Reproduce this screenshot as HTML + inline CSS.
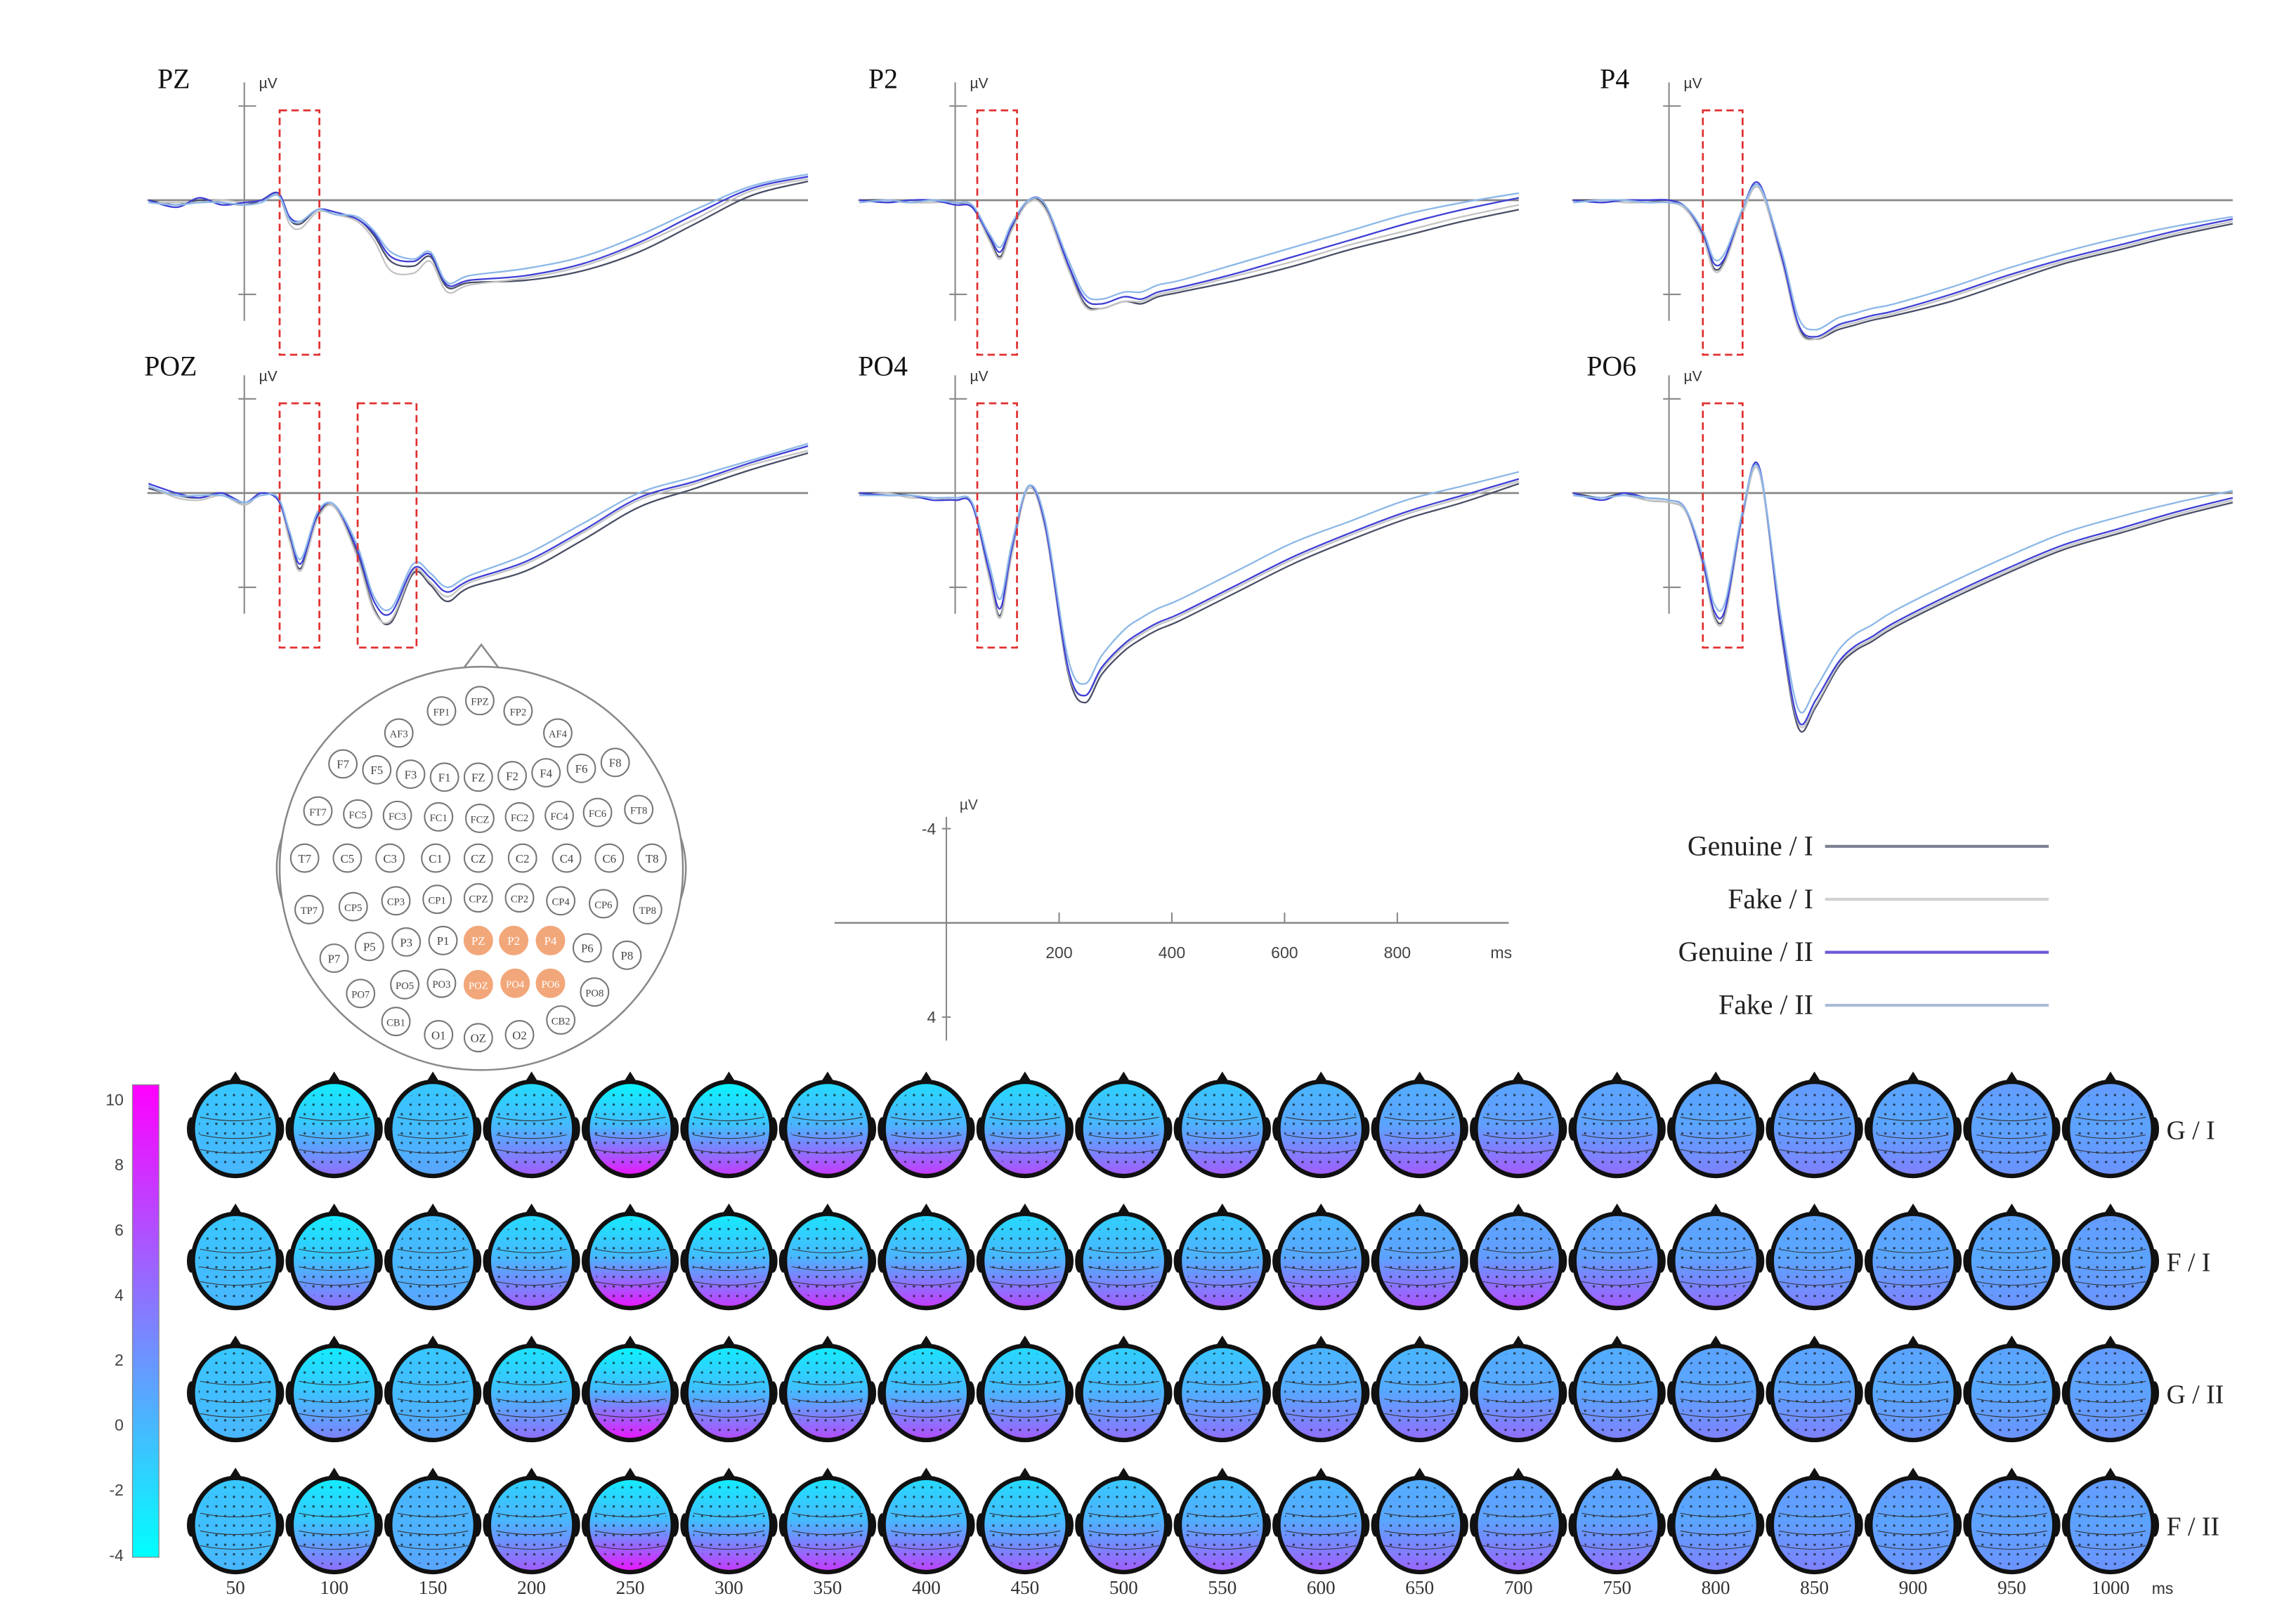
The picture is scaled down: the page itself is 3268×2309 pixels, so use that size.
<!DOCTYPE html>
<html><head><meta charset="utf-8"><style>
html,body{margin:0;padding:0;background:#fff;}
svg{display:block;font-family:"Liberation Serif",serif;}
</style></head><body>
<svg id="fig" width="3268" height="2309" viewBox="0 0 1560 1102" preserveAspectRatio="none" xmlns="http://www.w3.org/2000/svg">
<g id="waves"></g>
<g id="head"></g>
<g id="scalebar"></g>
<g id="legend"></g>
<g id="topos"></g>
</svg>
<script>
const times=[-170,-120,-80,-40,0,30,60,80,100,130,160,200,230,260,300,330,360,400,500,600,700,800,900,1000];
const condNames=["Genuine / I","Fake / I","Genuine / II","Fake / II"];
const condColors=["#4a4f66","#c4c4c4","#3f3fd6","#8cb8e8"];
const PZ_G1=[0,0.2,0,0.1,0.2,0,-0.3,0.8,1.0,0.4,0.6,0.8,1.5,2.6,2.8,2.4,3.7,3.5,3.4,3.0,2.2,1.0,-0.2,-0.8];
const PZ_F1=[0.1,0.1,0.1,0,0.1,0,-0.2,1.0,1.2,0.5,0.6,0.9,1.7,3.0,3.1,2.6,3.9,3.6,3.3,2.8,1.9,0.8,-0.4,-0.9];
const PZ_G2=[0,0.3,-0.1,0.2,0.1,0,-0.3,0.7,0.9,0.4,0.5,0.8,1.4,2.4,2.6,2.3,3.6,3.4,3.2,2.7,1.8,0.6,-0.5,-1.0];
const PZ_F2=[0.1,0.2,0.1,0.1,0.2,0.1,-0.2,0.8,0.9,0.4,0.6,0.7,1.3,2.2,2.5,2.2,3.5,3.2,2.9,2.4,1.5,0.4,-0.6,-1.1];
const P2_G1=[0,0,0.1,0,0.1,0.3,1.6,2.4,1.2,0,0.3,2.8,4.4,4.6,4.3,4.4,4.1,3.9,3.4,2.8,2.1,1.5,0.9,0.4];
const P2_F1=[0.1,0,0.1,0.1,0.1,0.3,1.7,2.5,1.3,0.1,0.4,2.9,4.5,4.6,4.3,4.3,4.0,3.8,3.2,2.6,1.9,1.3,0.7,0.2];
const P2_G2=[0,0.1,0,0,0.2,0.3,1.5,2.2,1.1,0,0.2,2.7,4.2,4.4,4.1,4.2,3.9,3.7,3.1,2.4,1.7,1.0,0.4,-0.1];
const P2_F2=[0.1,0,0.1,0,0.1,0.2,1.4,2.0,1.0,0,0.2,2.5,4.0,4.2,3.9,3.9,3.6,3.4,2.7,2.0,1.3,0.6,0.1,-0.3];
const P4_G1=[0,0,0,0.1,0,0.4,1.5,2.9,2.5,0.5,-0.6,2.5,5.4,5.9,5.5,5.3,5.1,4.9,4.3,3.5,2.7,2.1,1.5,1.0];
const P4_F1=[0.1,0,0.1,0.1,0.1,0.4,1.6,3.0,2.6,0.6,-0.5,2.6,5.5,5.9,5.4,5.2,5.0,4.8,4.1,3.3,2.6,2.0,1.4,0.9];
const P4_G2=[0,0.1,0,0,0,0.3,1.4,2.7,2.4,0.4,-0.7,2.4,5.3,5.8,5.3,5.1,4.9,4.7,4.0,3.2,2.5,1.9,1.3,0.8];
const P4_F2=[0.1,0,0,0.1,0.1,0.3,1.3,2.5,2.2,0.4,-0.6,2.2,5.0,5.5,5.0,4.8,4.6,4.4,3.7,2.9,2.2,1.6,1.1,0.7];
const POZ_G1=[-0.2,0.1,0.2,0,0.5,0,0.3,1.9,3.2,1.0,0.6,2.6,4.9,5.5,3.4,3.9,4.6,4.0,3.3,2.0,0.6,-0.2,-1.0,-1.7];
const POZ_F1=[-0.3,0.2,0.3,0.1,0.5,0,0.3,2.0,3.3,1.1,0.6,2.7,5.0,5.4,3.3,3.8,4.4,3.8,3.0,1.7,0.3,-0.4,-1.2,-1.8];
const POZ_G2=[-0.4,0,0.2,0,0.4,0,0.3,1.7,3.0,0.9,0.5,2.4,4.6,5.1,3.2,3.6,4.2,3.7,2.9,1.6,0.2,-0.5,-1.3,-2.0];
const POZ_F2=[-0.3,0.1,0.1,0.1,0.4,0.1,0.2,1.6,2.8,0.8,0.5,2.2,4.4,4.9,3.0,3.4,4.0,3.5,2.6,1.3,0,-0.7,-1.4,-2.1];
const PO4_G1=[0,0,0.1,0.2,0.3,0.5,3.5,5.2,2.6,-0.3,1.5,7.6,8.9,7.7,6.7,6.2,5.8,5.4,4.2,3.0,2.0,1.1,0.4,-0.4];
const PO4_F1=[0.1,0,0.2,0.2,0.3,0.5,3.6,5.3,2.7,-0.2,1.6,7.5,8.6,7.5,6.5,6.0,5.6,5.2,4.0,2.8,1.8,0.9,0.2,-0.5];
const PO4_G2=[0,0.1,0.1,0.3,0.3,0.5,3.3,4.9,2.4,-0.3,1.4,7.4,8.6,7.4,6.4,5.9,5.5,5.1,3.9,2.7,1.7,0.8,0.1,-0.6];
const PO4_F2=[0.1,0.1,0.1,0.2,0.2,0.4,3.0,4.5,2.2,-0.3,1.2,7.0,8.1,6.9,5.8,5.3,4.9,4.5,3.3,2.1,1.2,0.3,-0.3,-0.9];
const PO6_G1=[0,0.2,0,0.3,0.4,0.8,3.0,5.2,5.1,1.0,-1.0,6.1,10.0,9.1,7.4,6.7,6.3,5.7,4.5,3.4,2.4,1.7,1.0,0.4];
const PO6_F1=[0.1,0.2,0.1,0.3,0.4,0.8,3.1,5.3,5.2,1.1,-0.9,6.0,9.8,9.0,7.3,6.6,6.2,5.6,4.4,3.3,2.3,1.6,0.9,0.3];
const PO6_G2=[0,0.3,0,0.2,0.3,0.7,2.9,5.0,4.9,0.9,-1.1,5.9,9.7,8.8,7.2,6.5,6.1,5.5,4.3,3.2,2.2,1.5,0.8,0.2];
const PO6_F2=[0.1,0.2,0.1,0.2,0.3,0.7,2.7,4.7,4.6,0.8,-1.0,5.5,9.2,8.3,6.7,6.0,5.6,5.0,3.8,2.7,1.7,1.0,0.4,-0.1];
const panelNames=["PZ","P2","P4","POZ","PO4","PO6"];
const panelSeries=[[PZ_G1,PZ_F1,PZ_G2,PZ_F2],[P2_G1,P2_F1,P2_G2,P2_F2],[P4_G1,P4_F1,P4_G2,P4_F2],[POZ_G1,POZ_F1,POZ_G2,POZ_F2],[PO4_G1,PO4_F1,PO4_G2,PO4_F2],[PO6_G1,PO6_F1,PO6_G2,PO6_F2]];
const scaleTicks=[200,400,600,800];
const cbTicks=[10,8,6,4,2,0,-2,-4];
const topoTimes=[50,100,150,200,250,300,350,400,450,500,550,600,650,700,750,800,850,900,950,1000];
const rowLabels=["G / I","F / I","G / II","F / II"];
const front_GI=[-1,-3,-1,-2,-3.5,-3.5,-2,-2,-2,-1.5,-1,0,0.5,1,1,1,1.5,1,1.5,1.5];
const back_GI=[0,4,1,5,9,7,7,7,6,5,5,5,5,5,4,3,3,3,2,2];
const front_FI=[-1,-3,-0.5,-2,-3,-3,-2.5,-2,-2,-1.5,-1,0,0.5,1,1,1,1,1,1,1.5];
const back_FI=[0,4,1,5,9,7,7.5,7,6,5,5,5.5,5.5,6,5,4,3,3,2,2];
const front_GII=[-1,-3,-1,-2.5,-3.5,-3,-3,-2.5,-2,-1.5,-1,0,0,0.5,0.5,1,1,1,1,1.5];
const back_GII=[0,3,1,4,9,6,6,6,5,4,4,4,4,4,3,3,3,2,2,2];
const front_FII=[-1,-3,0,-1.5,-3,-3,-2.5,-2,-2,-1,-0.5,0,0.5,1,1,1,1.5,1.5,1.5,1.5];
const back_FII=[0,4,1,5,9,7,7,6.5,5,5,5,5,4.5,4.5,4,3,3,2,2,2];
const topoFront=[front_GI,front_FI,front_GII,front_FII];
const topoBack=[back_GI,back_FI,back_GII,back_FII];

const NS="http://www.w3.org/2000/svg";
function mk(tag,attrs,parent,text){const e=document.createElementNS(NS,tag);for(const k in attrs)e.setAttribute(k,attrs[k]);if(text!==undefined)e.textContent=text;parent.appendChild(e);return e;}
function smooth(pts){let d="M"+pts[0][0].toFixed(1)+","+pts[0][1].toFixed(1);for(let i=0;i<pts.length-1;i++){const p0=pts[Math.max(0,i-1)],p1=pts[i],p2=pts[i+1],p3=pts[Math.min(pts.length-1,i+2)];const c1=[p1[0]+(p2[0]-p0[0])/6,p1[1]+(p2[1]-p0[1])/6],c2=[p2[0]-(p3[0]-p1[0])/6,p2[1]-(p3[1]-p1[1])/6];d+="C"+c1[0].toFixed(1)+","+c1[1].toFixed(1)+" "+c2[0].toFixed(1)+","+c2[1].toFixed(1)+" "+p2[0].toFixed(1)+","+p2[1].toFixed(1);}return d;}

// panels
const panelPos=[{ax:166,zy:136,lx:107,ly:60},{ax:649,zy:136,lx:590,ly:60},{ax:1134,zy:136,lx:1087,ly:60},{ax:166,zy:335,lx:98,ly:255},{ax:649,zy:335,lx:583,ly:255},{ax:1134,zy:335,lx:1078,ly:255}];
const boxes=[[[190,217]],[[664,691]],[[1157,1184]],[[190,217],[243,283]],[[664,691]],[[1157,1184]]];
const W=document.getElementById("waves");
const PXMS=0.383,PXUV=16;
panelNames.forEach((nm,pi)=>{
  const p=panelPos[pi];
  const g=mk("g",{},W);
  
  
  const xs=t=>p.ax+t*PXMS, ys=v=>p.zy+v*PXUV;
  const lab=mk("text",{x:p.lx,y:p.ly,"font-size":19,fill:"#111"},g,nm);
  
  
  mk("line",{x1:xs(-172),x2:xs(1000),y1:p.zy,y2:p.zy,stroke:"#888","stroke-width":1.3},g);
  mk("line",{x1:p.ax,x2:p.ax,y1:p.zy-80,y2:p.zy+82,stroke:"#888","stroke-width":1},g);
  [-4,4].forEach(v=>mk("line",{x1:p.ax-4,x2:p.ax+8,y1:ys(v),y2:ys(v),stroke:"#888","stroke-width":1},g));
  mk("text",{x:p.ax+10,y:p.zy-76,"font-size":10,fill:"#333","font-family":"Liberation Sans, sans-serif"},g,"µV");
  panelSeries[pi].forEach((ser,ci)=>{
    const path=mk("path",{d:smooth(times.map((t,i)=>[xs(t),ys(ser[i])])),fill:"none",stroke:condColors[ci],"stroke-width":1.1},g);
    
    
  });
  boxes[pi].forEach(b=>{const r=mk("rect",{x:b[0],y:p.zy-61,width:b[1]-b[0],height:166,fill:"none",stroke:"#e03030","stroke-width":1.3,"stroke-dasharray":"5,3"},g);
    
    });
});

// head
const H=document.getElementById("head");
mk("path",{d:"M312,458 L327,438 L342,458",fill:"none",stroke:"#888","stroke-width":1.2},H);
mk("path",{d:"M193,565 Q183,590 193,615",fill:"#fff",stroke:"#888","stroke-width":1.2},H);
mk("path",{d:"M461,565 Q471,590 461,615",fill:"#fff",stroke:"#888","stroke-width":1.2},H);
mk("circle",{cx:327,cy:590,r:137,fill:"#fff",stroke:"#888","stroke-width":1.2},H);
const elecNames=["FPZ","FP1","FP2","AF3","AF4","F7","F5","F3","F1","FZ","F2","F4","F6","F8","FT7","FC5","FC3","FC1","FCZ","FC2","FC4","FC6","FT8","T7","C5","C3","C1","CZ","C2","C4","C6","T8","TP7","CP5","CP3","CP1","CPZ","CP2","CP4","CP6","TP8","P7","P5","P3","P1","PZ","P2","P4","P6","P8","PO7","PO5","PO3","POZ","PO4","PO6","PO8","CB1","O1","OZ","O2","CB2"];
const elecXY=[[326,476],[300,483],[352,483],[271,498],[379,498],[233,519],[256,523],[279,526],[302,528],[325,528],[348,527],[371,525],[395,522],[418,518],[216,551],[243,553],[270,554],[298,555],[326,556],[353,555],[380,554],[406,552],[434,550],[207,583],[236,583],[265,583],[296,583],[325,583],[355,583],[385,583],[414,583],[443,583],[210,618],[240,616],[269,612],[297,611],[325,610],[353,610],[381,612],[410,614],[440,618],[227,651],[251,643],[276,640],[301,639],[325,639],[349,639],[374,639],[399,644],[426,649],[245,675],[275,669],[300,668],[325,669],[350,668],[374,668],[404,674],[269,694],[298,703],[325,705],[353,703],[381,693]];
const hl=["PZ","P2","P4","POZ","PO4","PO6"];
elecNames.forEach((n,i)=>{const [x,y]=elecXY[i];const g=mk("g",{},H);
  
  
  const on=hl.includes(n);
  mk("circle",{cx:x,cy:y,r:9.5,fill:on?"#f2a77a":"#fff",stroke:on?"#f2a77a":"#777","stroke-width":1},g);
  mk("text",{x:x,y:y+3,"font-size":n.length>2?7:8,"text-anchor":"middle",fill:on?"#fff":"#444"},g,n);
});

// scale bar
const S=document.getElementById("scalebar");
const sax=643,szy=627;
mk("line",{x1:567,x2:1025,y1:szy,y2:szy,stroke:"#888","stroke-width":1.2},S);
mk("line",{x1:sax,x2:sax,y1:555,y2:707,stroke:"#888","stroke-width":1},S);
scaleTicks.forEach(t=>{const x=sax+t*0.383;mk("line",{x1:x,x2:x,y1:szy-7,y2:szy,stroke:"#888","stroke-width":1},S);
  mk("text",{x:x,y:szy+24,"font-size":11,"text-anchor":"middle",fill:"#444","font-family":"Liberation Sans, sans-serif"},S,String(t));});
mk("text",{x:1020,y:szy+24,"font-size":11,"text-anchor":"middle",fill:"#444","font-family":"Liberation Sans, sans-serif"},S,"ms");
[-4,4].forEach(v=>{const y=szy+v*16;mk("line",{x1:sax-3,x2:sax+3,y1:y,y2:y,stroke:"#888"},S);
  mk("text",{x:sax-7,y:y+4,"font-size":11,"text-anchor":"end",fill:"#444","font-family":"Liberation Sans, sans-serif"},S,String(v));});
mk("text",{x:sax+9,y:550,"font-size":10,fill:"#444","font-family":"Liberation Sans, sans-serif"},S,"µV");

// legend
const L=document.getElementById("legend");
const legCol=["#7a8090","#d0d0d0","#6a5ad8","#a8bcd8"];
condNames.forEach((n,i)=>{const y=575+i*36;const g=mk("g",{},L);
  
  
  mk("text",{x:1232,y:y+6,"font-size":19,"text-anchor":"end",fill:"#222"},g,n);
  mk("line",{x1:1240,x2:1392,y1:y,y2:y,stroke:legCol[i],"stroke-width":2},g);});

// topomaps
const T=document.getElementById("topos");
const defs=mk("defs",{},T);
const pat=mk("pattern",{id:"dots",width:6,height:6.5,patternUnits:"userSpaceOnUse"},defs);
mk("circle",{cx:3,cy:3,r:0.8,fill:"#111"},pat);
function cool(v){const f=Math.max(0,Math.min(1,(v+4)/14));return "rgb("+Math.round(255*f)+","+Math.round(255*(1-f))+",255)";}
const colX=i=>160+i*67.05, rowY=r=>767+r*89.7;
for(let r=0;r<4;r++){
  topoTimes.forEach((t,i)=>{
    const cx=colX(i),cy=rowY(r);
    const gid="tg"+r+"_"+i;
    const lg=mk("linearGradient",{id:gid,x1:0,y1:0,x2:0,y2:1},defs);
    const fv=topoFront[r][i],bv=topoBack[r][i];
    mk("stop",{offset:"0","stop-color":cool(fv)},lg);
    mk("stop",{offset:"0.45","stop-color":cool(fv*0.5+bv*0.15)},lg);
    mk("stop",{offset:"1","stop-color":cool(bv)},lg);
    const g=mk("g",{},T);
    
    
    mk("path",{d:`M${cx-5},${cy-31} L${cx},${cy-39} L${cx+5},${cy-31}Z`,fill:"#111"},g);
    mk("ellipse",{cx:cx-30,cy:cy,rx:3,ry:8,fill:"#111"},g);
    mk("ellipse",{cx:cx+30,cy:cy,rx:3,ry:8,fill:"#111"},g);
    mk("ellipse",{cx:cx,cy:cy,rx:29,ry:32,fill:`url(#${gid})`,stroke:"#111","stroke-width":3},g);
    mk("ellipse",{cx:cx,cy:cy,rx:25,ry:28,fill:"url(#dots)",opacity:0.7},g);
    [-8,4,14].forEach(dy=>mk("path",{d:`M${cx-24},${cy+dy} Q${cx},${cy+dy+5} ${cx+24},${cy+dy}`,fill:"none",stroke:"#333","stroke-width":0.5},g));
  });
  const rl=mk("text",{x:1472,y:rowY(r)+7,"font-size":18,fill:"#222"},T,rowLabels[r]);
  
  
}
topoTimes.forEach((t,i)=>{const tx=mk("text",{x:colX(i),y:1083,"font-size":13,"text-anchor":"middle",fill:"#333"},T,String(t));
  
  });
mk("text",{x:1462,y:1083,"font-size":11,fill:"#333","font-family":"Liberation Sans, sans-serif"},T,"ms");
// colorbar
const cg=mk("linearGradient",{id:"cbg",x1:0,y1:0,x2:0,y2:1},defs);
mk("stop",{offset:"0","stop-color":cool(10.5)},cg);
mk("stop",{offset:"1","stop-color":cool(-4.3)},cg);
const cb=mk("rect",{x:90,y:737,width:18,height:321,fill:"url(#cbg)",stroke:"#888","stroke-width":0.6},T);


const cbY=v=>968-v*22.1;
cbTicks.forEach(v=>mk("text",{x:84,y:cbY(v)+4,"font-size":11,"text-anchor":"end",fill:"#444","font-family":"Liberation Sans, sans-serif"},T,String(v)));
</script>
</body></html>
